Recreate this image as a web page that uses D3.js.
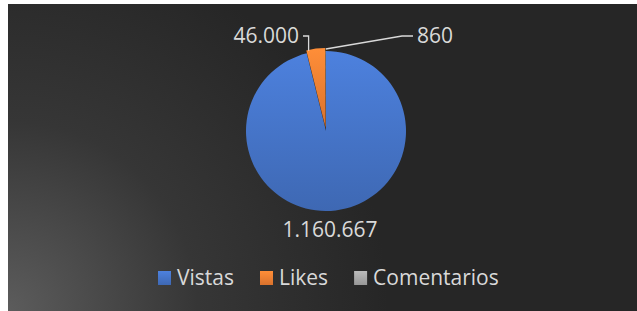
<!DOCTYPE html>
<html>
<head>
<meta charset="utf-8">
<script src="https://cdn.jsdelivr.net/npm/d3@7"></script>
<style>
  body { margin: 0; background: #fff; }
  text { font-family: "Open Sans", "Noto Sans", sans-serif; }
</style>
</head>
<body>
<svg id="chart" width="637" height="311"></svg>
<script>
const categories = ["Vistas", "Likes", "Comentarios"];
const values = [1160667, 46000, 860];
const valueLabels = ["1.160.667", "46.000", "860"];
const colors = ["#4472c4", "#ed7d31", "#a5a5a5"];

const svg = d3.select("#chart");
const W = 637, H = 311;

const defs = svg.append("defs");
const bg = defs.append("radialGradient")
  .attr("id", "bg")
  .attr("gradientUnits", "userSpaceOnUse")
  .attr("cx", 8).attr("cy", 311).attr("r", 380);
bg.append("stop").attr("offset", 0).attr("stop-color", "#5c5c5c");
bg.append("stop").attr("offset", 0.5).attr("stop-color", "#363636");
bg.append("stop").attr("offset", 1).attr("stop-color", "#262626");

// slice gradients, lighter at top
colors.forEach((c, i) => {
  const g = defs.append("linearGradient")
    .attr("id", "slice" + i)
    .attr("x1", 0).attr("y1", 0).attr("x2", 0).attr("y2", 1);
  g.append("stop").attr("offset", 0).attr("stop-color", d3.color(c).brighter(0.35));
  g.append("stop").attr("offset", 1).attr("stop-color", d3.color(c).darker(0.25));
});

svg.append("rect")
  .attr("x", 8).attr("y", 4)
  .attr("width", W - 8).attr("height", H - 4)
  .attr("fill", "url(#bg)");

const cx = 326, cy = 131, r = 80;

const pie = d3.pie().sort(null).value(d => d);
const arcs = pie(values);
const arc = d3.arc().innerRadius(0).outerRadius(r);

const g = svg.append("g").attr("transform", `translate(${cx},${cy})`);

// Likes slice slightly pulled out
const explode = [0, 3, 0];

g.selectAll("path.slice")
  .data(arcs)
  .enter().append("path")
  .attr("class", "slice")
  .attr("d", arc)
  .attr("transform", (d, i) => {
    const a = (d.startAngle + d.endAngle) / 2;
    return `translate(${Math.sin(a) * explode[i]},${-Math.cos(a) * explode[i]})`;
  })
  .attr("fill", (d, i) => `url(#slice${i})`);

const textColor = "#d9d9d9";
const fs = 21;

// Vistas label below pie
g.append("text")
  .attr("x", 4).attr("y", 106)
  .attr("text-anchor", "middle")
  .attr("fill", textColor)
  .attr("font-size", fs)
  .text(valueLabels[0]);

// Likes label with leader line
{
  const a = arcs[1];
  const ang = a.startAngle + 0.03;
  const px = Math.sin(ang) * (r + 2), py = -Math.cos(ang) * (r + 2);
  const ly = 36 - cy;
  g.append("polyline")
    .attr("points", [[px, py], [px, ly], [303 - cx, ly]].map(p => p.join(",")).join(" "))
    .attr("fill", "none").attr("stroke", textColor).attr("stroke-width", 1.3);
  g.append("text")
    .attr("x", 299 - cx).attr("y", ly)
    .attr("dy", "0.35em")
    .attr("text-anchor", "end")
    .attr("fill", textColor).attr("font-size", fs)
    .text(valueLabels[1]);
}

// Comentarios label with leader line
{
  const a = arcs[2];
  const ang = (a.startAngle + a.endAngle) / 2;
  const px = Math.sin(ang) * (r + 2), py = -Math.cos(ang) * (r + 2);
  const ly = 36 - cy;
  g.append("polyline")
    .attr("points", [[px, py], [402 - cx, ly], [413 - cx, ly]].map(p => p.join(",")).join(" "))
    .attr("fill", "none").attr("stroke", textColor).attr("stroke-width", 1.3);
  g.append("text")
    .attr("x", 417 - cx).attr("y", ly)
    .attr("dy", "0.35em")
    .attr("fill", textColor).attr("font-size", fs)
    .text(valueLabels[2]);
}

// legend
const legend = svg.append("g").attr("transform", "translate(0,278)");
const items = legend.selectAll("g.item")
  .data(categories)
  .enter().append("g").attr("class", "item");
items.append("rect")
  .attr("y", -7).attr("width", 13).attr("height", 14)
  .attr("fill", (d, i) => `url(#slice${i})`);
items.append("text")
  .attr("x", 19).attr("dy", "0.35em")
  .attr("fill", textColor).attr("font-size", fs)
  .text(d => d);

let x = 158;
items.each(function () {
  const w = this.getBBox().width;
  d3.select(this).attr("transform", `translate(${x},0)`);
  x += w + 26;
});
</script>
</body>
</html>
